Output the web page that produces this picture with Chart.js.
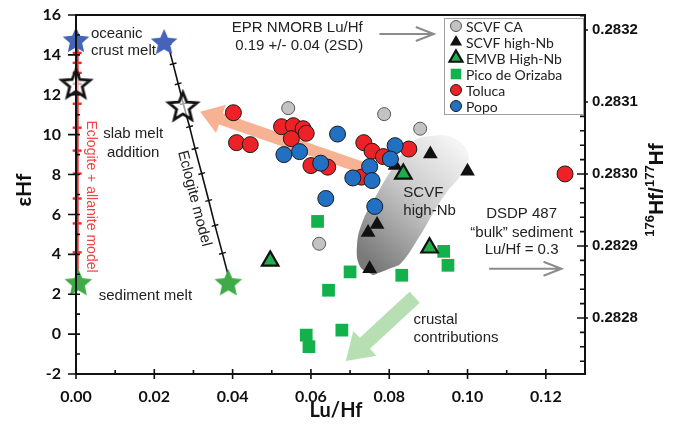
<!DOCTYPE html>
<html>
<head>
<meta charset="utf-8">
<title>εHf vs Lu/Hf</title>
<script src="https://cdn.jsdelivr.net/npm/chart.js@4.4.0/dist/chart.umd.min.js"></script>
<style>
  html, body { margin: 0; padding: 0; background: #fff; }
</style>
</head>
<body>
<canvas id="hfChart" width="675" height="425"></canvas>
<script>
// axis ticks
const xTicks = [0, 0.02, 0.04, 0.06, 0.08, 0.10, 0.12];
const yTicks = [-2, 0, 2, 4, 6, 8, 10, 12, 14, 16];
const ratioTicks = [0.2828, 0.2829, 0.2830, 0.2831, 0.2832];

// samples (Lu/Hf, εHf)
const scvfCA = [
  {x: 0.0542, y: 11.33}, {x: 0.0787, y: 11.03}, {x: 0.0879, y: 10.3}, {x: 0.0621, y: 4.53}
];
const scvfHighNb = [
  {x: 0.0905, y: 9.03}, {x: 0.1000, y: 8.17}, {x: 0.0815, y: 8.45},
  {x: 0.0746, y: 5.1}, {x: 0.0769, y: 5.5}, {x: 0.0750, y: 3.28}
];
const emvbHighNb = [
  {x: 0.0836, y: 8.03}, {x: 0.0496, y: 3.67}, {x: 0.0903, y: 4.33}
];
const picoOrizaba = [
  {x: 0.0617, y: 5.65}, {x: 0.0700, y: 3.12}, {x: 0.0645, y: 2.2},
  {x: 0.0832, y: 2.95}, {x: 0.0939, y: 4.15}, {x: 0.0950, y: 3.45},
  {x: 0.0588, y: -0.05}, {x: 0.0595, y: -0.63}, {x: 0.0679, y: 0.2}
];
const toluca = [
  {x: 0.0402, y: 11.1}, {x: 0.0410, y: 9.6}, {x: 0.0445, y: 9.5},
  {x: 0.0525, y: 10.4}, {x: 0.0555, y: 10.45}, {x: 0.0580, y: 10.3},
  {x: 0.0588, y: 10.07}, {x: 0.0550, y: 9.8}, {x: 0.0600, y: 8.45},
  {x: 0.0643, y: 8.37}, {x: 0.0735, y: 9.6}, {x: 0.0756, y: 9.17},
  {x: 0.0785, y: 8.9}, {x: 0.0850, y: 9.28}, {x: 0.0729, y: 7.87},
  {x: 0.1249, y: 8.03}
];
const popo = [
  {x: 0.0531, y: 9.0}, {x: 0.0571, y: 9.15}, {x: 0.0625, y: 8.57},
  {x: 0.0668, y: 10.03}, {x: 0.0638, y: 6.8}, {x: 0.0815, y: 9.45},
  {x: 0.0803, y: 8.78}, {x: 0.0750, y: 8.4}, {x: 0.0707, y: 7.83},
  {x: 0.0756, y: 7.7}, {x: 0.0763, y: 6.4}
];

// end members and mixing models
const oceanicMelt = [{x: 0.0, y: 14.7}, {x: 0.0225, y: 14.6}];
const slabAddition = [{x: 0.0, y: 12.5}, {x: 0.0273, y: 11.37}];
const sedimentMelt = [{x: 0.0006, y: 2.53}, {x: 0.0389, y: 2.53}];
const eclogiteModel = [
  {x: 0.0235, y: 14.5}, {x: 0.0248, y: 13.55}, {x: 0.0261, y: 12.55},
  {x: 0.0274, y: 11.55}, {x: 0.0290, y: 10.4}, {x: 0.0304, y: 9.3},
  {x: 0.0321, y: 8.05}, {x: 0.0339, y: 6.7}, {x: 0.0355, y: 5.45},
  {x: 0.0374, y: 4.05}, {x: 0.0392, y: 2.7}
];
const allaniteModel = [
  {x: 0.0003, y: 14.55}, {x: 0.0003, y: 14.1}, {x: 0.0003, y: 13.6},
  {x: 0.0003, y: 13.1}, {x: 0.0003, y: 12.55}, {x: 0.0003, y: 12.1},
  {x: 0.0003, y: 11.55}, {x: 0.0003, y: 10.35}, {x: 0.0003, y: 9.2},
  {x: 0.0003, y: 8.05}, {x: 0.0003, y: 6.8}, {x: 0.0003, y: 5.55},
  {x: 0.0003, y: 4.1}, {x: 0.0003, y: 2.6}
];
// outline of the SCVF high-Nb field
const scvfField = [
  {x: 0.0759, y: 2.95}, {x: 0.0725, y: 3.4}, {x: 0.0718, y: 4.55},
  {x: 0.0733, y: 5.7}, {x: 0.0764, y: 6.85}, {x: 0.0808, y: 8.3},
  {x: 0.0860, y: 9.65}, {x: 0.0914, y: 9.95}, {x: 0.0968, y: 9.8},
  {x: 0.1003, y: 8.95}, {x: 0.0982, y: 7.95}, {x: 0.0950, y: 7.2},
  {x: 0.0916, y: 6.2}, {x: 0.0882, y: 5.05}, {x: 0.0830, y: 3.55},
  {x: 0.0803, y: 3.3}, {x: 0.0759, y: 2.95}
];

const FONT = '"Liberation Sans", Arial, sans-serif';

function star(outer, inner, fill, stroke, lw) {
  const size = Math.ceil(outer * 2 + lw + 4);
  const c = document.createElement('canvas');
  c.width = c.height = size;
  const g = c.getContext('2d');
  g.beginPath();
  for (let i = 0; i < 10; i++) {
    const r = i % 2 ? inner : outer;
    const a = -Math.PI / 2 + i * Math.PI / 5;
    g.lineTo(size / 2 + r * Math.cos(a), size / 2 + r * Math.sin(a));
  }
  g.closePath();
  if (fill) { g.fillStyle = fill; g.fill(); }
  if (stroke) { g.lineWidth = lw; g.strokeStyle = stroke; g.stroke(); }
  return c;
}

const blueStar = star(14, 6.5, '#4563b9', null, 0);
const greenStar = star(14.5, 6.8, '#3fab48', null, 0);
const openStar = star(15, 6.6, 'rgba(255,255,255,0.6)', '#111', 2.8);

function blockArrow(ctx, x0, y0, x1, y1, body, headW, headL, color) {
  const a = Math.atan2(y1 - y0, x1 - x0);
  const len = Math.hypot(x1 - x0, y1 - y0);
  ctx.save();
  ctx.translate(x0, y0);
  ctx.rotate(a);
  ctx.beginPath();
  ctx.moveTo(0, -body / 2);
  ctx.lineTo(len - headL, -body / 2);
  ctx.lineTo(len - headL, -headW / 2);
  ctx.lineTo(len, 0);
  ctx.lineTo(len - headL, headW / 2);
  ctx.lineTo(len - headL, body / 2);
  ctx.lineTo(0, body / 2);
  ctx.closePath();
  ctx.fillStyle = color;
  ctx.fill();
  ctx.restore();
}

function lineArrow(ctx, x0, y0, x1, color) {
  ctx.save();
  ctx.strokeStyle = color;
  ctx.lineWidth = 2;
  ctx.beginPath();
  ctx.moveTo(x0, y0);
  ctx.lineTo(x1, y0);
  ctx.moveTo(x1 - 18, y0 - 7);
  ctx.lineTo(x1, y0);
  ctx.lineTo(x1 - 18, y0 + 7);
  ctx.stroke();
  ctx.restore();
}

// arrows sit under the symbols
const arrows = {
  id: 'arrows',
  beforeDatasetsDraw(chart) {
    const {ctx, scales: {x, y}} = chart;
    blockArrow(ctx, x.getPixelForValue(0.0738), y.getPixelForValue(8.3),
      x.getPixelForValue(0.0317), y.getPixelForValue(11.15), 12, 30, 22, '#f6b293');
    blockArrow(ctx, x.getPixelForValue(0.0865), y.getPixelForValue(1.85),
      x.getPixelForValue(0.0689), y.getPixelForValue(-1.35), 15, 34, 26, 'rgba(165,215,160,0.8)');
  }
};

// frame with inner/outer tick marks on three axes
const frame = {
  id: 'frame',
  afterDatasetsDraw(chart) {
    const {ctx, chartArea: a, scales} = chart;
    const sx = scales.x, sy = scales.y, sr = scales.y2;
    ctx.save();
    ctx.strokeStyle = '#111';
    ctx.lineWidth = 2;
    ctx.strokeRect(a.left, a.top, a.right - a.left, a.bottom - a.top);
    ctx.lineWidth = 1.6;
    ctx.beginPath();
    xTicks.forEach(v => {
      const p = sx.getPixelForValue(v);
      ctx.moveTo(p, a.bottom - 5); ctx.lineTo(p, a.bottom + 5);
      const m = sx.getPixelForValue(v + 0.01);
      if (m < a.right - 2) { ctx.moveTo(m, a.bottom - 4); ctx.lineTo(m, a.bottom); }
    });
    yTicks.forEach(v => {
      const p = sy.getPixelForValue(v);
      ctx.moveTo(a.left - 8, p); ctx.lineTo(a.left + 4, p);
      if (v < 16) {
        const m = sy.getPixelForValue(v + 1);
        ctx.moveTo(a.left, m); ctx.lineTo(a.left + 4, m);
      }
    });
    const step = 0.00002;
    for (let k = Math.ceil(sr.min / step); k <= Math.floor(sr.max / step); k++) {
      const v = k * step;
      const p = sr.getPixelForValue(v);
      const major = ratioTicks.some(t => Math.abs(t - v) < 1e-9);
      if (major) { ctx.moveTo(a.right - 8, p); ctx.lineTo(a.right + 3, p); }
      else { ctx.moveTo(a.right - 5, p); ctx.lineTo(a.right, p); }
    }
    ctx.stroke();
    ctx.restore();
  }
};

function text(ctx, str, px, py, opts = {}) {
  ctx.save();
  ctx.font = opts.font || '15px ' + FONT;
  ctx.fillStyle = opts.color || '#222';
  ctx.textAlign = opts.align || 'center';
  ctx.textBaseline = 'middle';
  ctx.translate(px, py);
  if (opts.rotate) ctx.rotate(opts.rotate * Math.PI / 180);
  ctx.fillText(str, 0, 0);
  ctx.restore();
}

const notes = {
  id: 'notes',
  afterDraw(chart) {
    const {ctx, chartArea: a, scales: {x, y}} = chart;
    const X = v => x.getPixelForValue(v), Y = v => y.getPixelForValue(v);

    text(ctx, 'oceanic', X(0.0038), Y(15.05), {align: 'left'});
    text(ctx, 'crust melt', X(0.0038), Y(14.2), {align: 'left'});
    text(ctx, 'EPR NMORB Lu/Hf', X(0.0565), Y(15.35));
    text(ctx, '0.19 +/- 0.04 (2SD)', X(0.0570), Y(14.45));
    text(ctx, 'slab melt', X(0.0146), Y(10.05));
    text(ctx, 'addition', X(0.0146), Y(9.1));
    text(ctx, 'Eclogite + allanite model', X(0.0038), Y(6.9),
      {rotate: 90, color: '#f04545', font: '14px ' + FONT});
    text(ctx, 'Eclogite model', X(0.0302), Y(6.8), {rotate: 75.5});
    text(ctx, 'sediment melt', X(0.0058), Y(1.9), {align: 'left'});
    text(ctx, 'SCVF', X(0.0836), Y(7.1), {align: 'left'});
    text(ctx, 'high-Nb', X(0.0836), Y(6.2), {align: 'left'});
    text(ctx, 'DSDP 487', X(0.1138), Y(6.03));
    text(ctx, '\u201cbulk\u201d sediment', X(0.1138), Y(5.1));
    text(ctx, 'Lu/Hf = 0.3', X(0.1138), Y(4.2));
    text(ctx, 'crustal', X(0.0862), Y(0.7), {align: 'left'});
    text(ctx, 'contributions', X(0.0862), Y(-0.2), {align: 'left'});

    lineArrow(ctx, X(0.0775), Y(15.05), X(0.0914), '#8c8c8c');
    lineArrow(ctx, X(0.1055), Y(3.28), X(0.1240), '#8c8c8c');

    // axis titles
    text(ctx, 'εHf', 24, 190,
      {rotate: -90, font: 'bold 21px Lato, sans-serif', color: '#111'});
    text(ctx, 'Lu/Hf', 336, 411,
      {font: 'bold 20px Lato, sans-serif', color: '#111'});

    const parts = [['176', true], ['Hf/', false], ['177', true], ['Hf', false]];
    const big = 'bold 21px ' + FONT, small = 'bold 13px ' + FONT;
    ctx.save();
    ctx.translate(655, 190);
    ctx.rotate(-Math.PI / 2);
    let total = 0;
    parts.forEach(p => { ctx.font = p[1] ? small : big; total += ctx.measureText(p[0]).width; });
    let cx = -total / 2;
    ctx.fillStyle = '#111';
    ctx.textBaseline = 'alphabetic';
    ctx.textAlign = 'left';
    parts.forEach(p => {
      ctx.font = p[1] ? small : big;
      ctx.fillText(p[0], cx, p[1] ? -1 : 8);
      cx += ctx.measureText(p[0]).width;
    });
    ctx.restore();

    // legend box
    const keys = ['SCVF CA', 'SCVF high-Nb', 'EMVB High-Nb', 'Pico de Orizaba', 'Toluca', 'Popo'];
    const bx = a.right - 141, by = a.top + 3, bw = 139, bh = 96;
    ctx.save();
    ctx.fillStyle = '#fff';
    ctx.fillRect(bx, by, bw, bh);
    ctx.strokeStyle = '#a0a0a0';
    ctx.lineWidth = 1;
    ctx.strokeRect(bx + 0.5, by + 0.5, bw, bh);
    keys.forEach((k, i) => {
      const ds = chart.data.datasets.find(d => d.label === k);
      const ly = by + 8 + i * 16;
      ctx.fillStyle = ds.backgroundColor;
      ctx.strokeStyle = ds.borderColor || ds.backgroundColor;
      ctx.lineWidth = ds.borderWidth || 0;
      Chart.helpers.drawPoint(ctx, {
        pointStyle: ds.pointStyle, radius: ds.legendRadius, rotation: 0,
        borderWidth: ds.borderWidth || 0
      }, bx + 12, ly);
      ctx.fillStyle = '#222';
      ctx.font = '14px Lato, sans-serif';
      ctx.textAlign = 'left';
      ctx.textBaseline = 'middle';
      ctx.fillText(k, bx + 22, ly + 1);
    });
    ctx.restore();
  }
};

const fieldFill = c => {
  const chart = c.chart;
  if (!chart.chartArea) return 'rgba(0,0,0,0)';
  const {x, y} = chart.scales;
  const g = chart.ctx.createLinearGradient(
    x.getPixelForValue(0.072), y.getPixelForValue(4.2),
    x.getPixelForValue(0.097), y.getPixelForValue(9.6));
  g.addColorStop(0, '#7a7a7a');
  g.addColorStop(0.55, '#cbcbcb');
  g.addColorStop(1, '#f4f4f4');
  return g;
};

const tickFont = {family: 'Lato, sans-serif', size: 16, weight: 'bold'};

// vertical axes get a fixed width and no extra label overhang
const fixVertical = w => s => { s.width = w; s.paddingTop = 0; s.paddingBottom = 0; };

new Chart(document.getElementById('hfChart'), {
  type: 'scatter',
  data: {
    datasets: [
      {label: 'Popo', data: popo, order: 1, pointStyle: 'circle', pointRadius: 8,
        backgroundColor: '#2270c2', borderColor: '#1a1a1a', borderWidth: 1, legendRadius: 5.5},
      {label: 'Toluca', data: toluca, order: 2, pointStyle: 'circle', pointRadius: 8,
        backgroundColor: '#ec2227', borderColor: '#1a1a1a', borderWidth: 1, legendRadius: 5.5},
      {label: 'EMVB High-Nb', data: emvbHighNb, order: 3, pointStyle: 'triangle', pointRadius: 9.5,
        backgroundColor: '#1fae4b', borderColor: '#111', borderWidth: 2.2, legendRadius: 7.5},
      {label: 'SCVF high-Nb', data: scvfHighNb, order: 4, pointStyle: 'triangle', pointRadius: 8.5,
        backgroundColor: '#111', borderColor: '#111', borderWidth: 0, legendRadius: 7},
      {label: 'Pico de Orizaba', data: picoOrizaba, order: 5, pointStyle: 'rect', pointRadius: 9,
        backgroundColor: '#13b14b', borderWidth: 0, legendRadius: 7.5},
      {label: 'SCVF CA', data: scvfCA, order: 6, pointStyle: 'circle', pointRadius: 6.5,
        backgroundColor: '#c3c3c3', borderColor: '#555', borderWidth: 1, legendRadius: 5.5},
      {label: 'oceanic crust melt', data: oceanicMelt, order: 7, pointStyle: blueStar, clip: false},
      {label: 'slab melt addition', data: slabAddition, order: 7, pointStyle: openStar, clip: false},
      {label: 'sediment melt', data: sedimentMelt, order: 7, pointStyle: greenStar, clip: false},
      {label: 'Eclogite model', data: eclogiteModel, order: 8, showLine: true,
        borderColor: '#111', borderWidth: 1.6, pointStyle: 'line', pointRadius: 3.5,
        rotation: -15, pointBorderColor: '#111', pointBorderWidth: 1.4, clip: false},
      {label: 'Eclogite + allanite model', data: allaniteModel, order: 8, showLine: true,
        borderColor: '#ee2a2a', borderWidth: 3, pointStyle: 'line', pointRadius: 4.5,
        pointBorderColor: '#ee2a2a', pointBorderWidth: 2.4, clip: false},
      {label: 'SCVF high-Nb field', data: scvfField, order: 9, showLine: true, fill: 'shape',
        tension: 0.4, borderWidth: 0, borderColor: 'rgba(0,0,0,0)', pointRadius: 0,
        backgroundColor: fieldFill}
    ]
  },
  options: {
    responsive: false,
    animation: false,
    events: [],
    layout: {padding: {top: 15, left: 0, right: 0, bottom: 0}},
    plugins: {legend: {display: false}, tooltip: {enabled: false}},
    scales: {
      x: {
        type: 'linear', min: 0, max: 0.13,
        afterBuildTicks: s => { s.ticks = xTicks.map(v => ({value: v})); },
        afterFit: s => { s.height = 51; s.paddingLeft = 0; s.paddingRight = 0; },
        grid: {display: false, drawTicks: false}, border: {display: false},
        ticks: {padding: 13, color: '#111', font: tickFont, autoSkip: false, maxRotation: 0,
          callback: v => Number(v).toFixed(2)}
      },
      y: {
        type: 'linear', position: 'left', min: -2, max: 16,
        afterBuildTicks: s => { s.ticks = yTicks.map(v => ({value: v})); },
        afterFit: fixVertical(76),
        grid: {display: false, drawTicks: false}, border: {display: false},
        ticks: {padding: 15, color: '#111', font: tickFont, autoSkip: false}
      },
      y2: {
        type: 'linear', position: 'right', min: 0.2827222, max: 0.2832208,
        afterBuildTicks: s => { s.ticks = ratioTicks.map(v => ({value: v})); },
        afterFit: fixVertical(90),
        grid: {display: false, drawTicks: false}, border: {display: false},
        ticks: {padding: 7, color: '#111', autoSkip: false,
          font: {family: FONT, size: 15, weight: 'bold'},
          callback: v => Number(v).toFixed(4)}
      }
    }
  },
  plugins: [arrows, frame, notes]
});
</script>
</body>
</html>
